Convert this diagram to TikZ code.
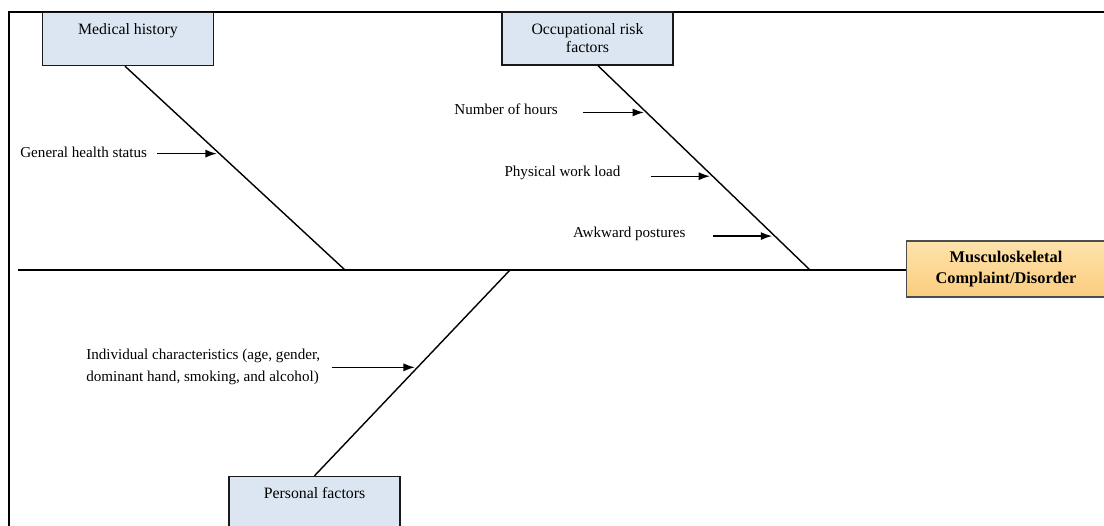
\documentclass[tikz,border=0pt]{standalone}
\usepackage{fontspec}
\setmainfont{Liberation Serif}
\usetikzlibrary{arrows.meta}
\definecolor{boxblue}{HTML}{DCE6F2}
\definecolor{effecttop}{HTML}{FEE3AC}
\definecolor{effectbot}{HTML}{FBCD7E}

\begin{document}
\begin{tikzpicture}
[ x=0.02cm, y=-0.02cm
, causebox/.style={rectangle, draw=black!90, line width=0.8pt, fill=boxblue, minimum width=3.42cm, minimum height=1.06cm, inner sep=0pt}
, boxtitle/.style={anchor=north, inner sep=0pt, align=center, font=\fontsize{9}{10.2}\selectfont}
, effect/.style={rectangle, draw=black!70, line width=0.6pt, top color=effecttop, bottom color=effectbot, minimum width=4cm, minimum height=1.12cm, align=center, font=\fontsize{9.3}{11.9}\selectfont\bfseries}
, bone/.style={line width=0.8pt}
, factor/.style={anchor=east, align=left, inner sep=0pt, font=\fontsize{8.6}{12.5}\selectfont}
, feed/.style={-{Latex[length=6.5pt,width=4.6pt]}, line width=0.8pt, shorten >=1.5pt}
]
\useasboundingbox (0,0) rectangle (1104,526);
\clip (0,0) rectangle (1104,526);
% Frame:
\draw[line width=1.2pt] (9,526) -- (9,12) -- (1104,12);
% Boxes:
\node[causebox] (medical) at (128,39) {};
\node[boxtitle] (medicaltitle) at ([yshift=-6.6pt]medical.north) {Medical history};
\node[causebox] (occup) at (587.5,38.5) {};
\node[boxtitle] (occuptitle) at ([yshift=-6.6pt]occup.north) {Occupational risk\\factors};
\node[causebox] (personal) at (314.5,503) {};
\node[boxtitle] (personaltitle) at ([yshift=-6.6pt]personal.north) {Personal factors};
\node[effect] (msd) at (1006,269) {Musculoskeletal\\Complaint/Disorder};
% Spine and bones:
\coordinate (tail) at (18,270);
\coordinate (m1) at (345,270);
\coordinate (m2) at (810,270);
\coordinate (m3) at (510,270);
\draw[bone] (tail) -- (msd.west |- tail);
\draw[bone] ([xshift=-0.06cm]medical.south) -- coordinate[pos=0.429] (gh) (m1);
\draw[bone] ([xshift=0.21cm]occup.south) -- coordinate[pos=0.229] (nh) coordinate[pos=0.541] (pw) coordinate[pos=0.834] (ap) (m2);
\draw[bone] (personal.north) -- coordinate[pos=0.527] (ic) (m3);
% Causes:
\coordinate (gh0) at ([xshift=-1.24cm]gh);
\coordinate (nh0) at ([xshift=-1.27cm]nh);
\coordinate (pw0) at ([xshift=-1.24cm]pw);
\coordinate (ap0) at ([xshift=-1.24cm]ap);
\coordinate (ic0) at ([xshift=-1.72cm]ic);
\node[factor] (genhealth) at ([xshift=-0.2cm, yshift=0.5pt]gh0) {General health status};
\node[factor] (hours) at ([xshift=-0.5cm, yshift=1.7pt]nh0) {Number of hours};
\node[factor] (workload) at ([xshift=-0.6cm, yshift=2pt]pw0) {Physical work load};
\node[factor] (postures) at ([xshift=-0.54cm, yshift=1pt]ap0) {Awkward postures};
\node[factor] (individual) at ([xshift=-0.22cm]ic0) {Individual characteristics (age, gender,\\dominant hand, smoking, and alcohol)};
\draw[feed] (gh0) -- (gh);
\draw[feed] (nh0) -- (nh);
\draw[feed] (pw0) -- (pw);
\draw[feed] (ap0) -- (ap);
\draw[feed] (ic0) -- (ic);
\end{tikzpicture}
\end{document}
